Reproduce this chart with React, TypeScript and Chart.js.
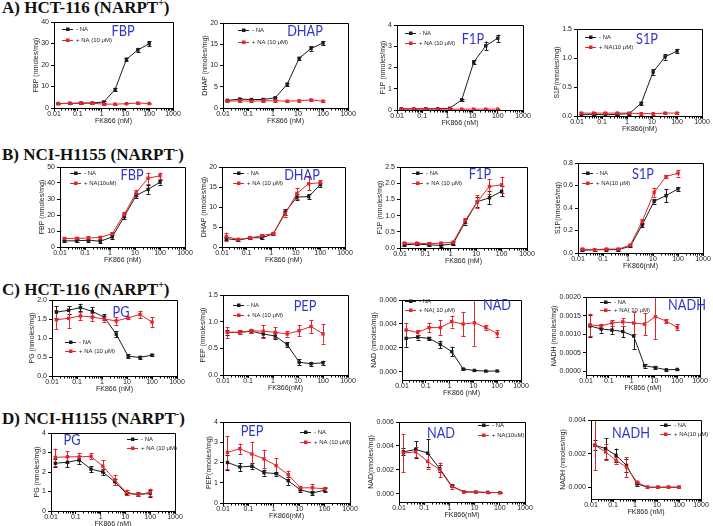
import React, { useEffect, useRef } from "react";
import { Chart, registerables } from "chart.js";

Chart.register(...registerables);

// ---------- shared data ----------
const DOSES = [0.015, 0.046, 0.137, 0.41, 1.23, 3.7, 11.1, 33.3, 100];
const X_TICKS = [0.01, 0.1, 1, 10, 100, 1000];
const X_TICK_LABELS = ["0.01", "0.1", "1", "10", "100", "1000"];
const SERIES = ["- NA", "+ NA (10 μM)"];

// ---------- Row A: HCT-116 ----------
const A_FBP_ctrl = [2.1, 2.2, 2.3, 2.3, 2.8, 8.6, 22.7, 27.0, 29.9];
const A_FBP_ctrlErr = [0.3, 0.3, 0.3, 0.3, 0.4, 0.6, 0.7, 1.0, 1.1];
const A_FBP_na = [2.0, 2.1, 2.2, 2.2, 1.8, 1.8, 2.0, 2.3, 2.1];
const A_FBP_naErr = [0.3, 0.2, 0.2, 0.2, 0.2, 0.2, 0.2, 0.3, 0.2];
const A_FBP_yTicks = [0, 10, 20, 30, 40];

const A_DHAP_ctrl = [1.8, 2.1, 2.0, 2.0, 2.4, 5.6, 11.7, 14.0, 15.3];
const A_DHAP_ctrlErr = [0.2, 0.2, 0.2, 0.3, 0.3, 0.4, 0.3, 0.5, 0.5];
const A_DHAP_na = [1.6, 1.7, 1.6, 1.7, 1.7, 1.6, 1.7, 1.9, 1.6];
const A_DHAP_naErr = [0.2, 0.2, 0.2, 0.2, 0.2, 0.2, 0.2, 0.2, 0.3];
const A_DHAP_yTicks = [0, 5, 10, 15, 20];

const A_F1P_ctrl = [0.06, 0.05, 0.06, 0.06, 0.08, 0.48, 2.25, 3.02, 3.38];
const A_F1P_ctrlErr = [0.03, 0.03, 0.03, 0.03, 0.03, 0.06, 0.1, 0.2, 0.17];
const A_F1P_na = [0.04, 0.04, 0.04, 0.04, 0.04, 0.04, 0.04, 0.04, 0.04];
const A_F1P_naErr = [0.02, 0.02, 0.02, 0.02, 0.02, 0.02, 0.02, 0.02, 0.02];
const A_F1P_yTicks = [0, 1, 2, 3, 4];

const A_S1P_ctrl = [0.02, 0.03, 0.02, 0.03, 0.04, 0.22, 0.76, 1.02, 1.12];
const A_S1P_ctrlErr = [0.02, 0.02, 0.03, 0.02, 0.02, 0.03, 0.05, 0.05, 0.04];
const A_S1P_na = [0.05, 0.05, 0.05, 0.05, 0.05, 0.04, 0.04, 0.05, 0.05];
const A_S1P_naErr = [0.02, 0.02, 0.02, 0.02, 0.02, 0.02, 0.02, 0.02, 0.02];
const A_S1P_yTicks = [0, 0.5, 1.0, 1.5];

// ---------- Row B: NCI-H1155 ----------
const B_FBP_ctrl = [3.8, 3.9, 4.2, 3.6, 6.3, 19.0, 32.2, 36.0, 40.5];
const B_FBP_ctrlErr = [0.8, 0.8, 0.8, 0.8, 1.0, 1.5, 1.5, 3.0, 1.5];
const B_FBP_na = [5.3, 5.4, 5.6, 6.0, 8.3, 20.5, 33.8, 43.0, 44.5];
const B_FBP_naErr = [1.0, 1.0, 1.0, 1.0, 1.0, 1.5, 2.0, 3.5, 2.0];
const B_FBP_yTicks = [0, 10, 20, 30, 40, 50];

const B_DHAP_ctrl = [2.1, 1.7, 2.3, 2.3, 3.3, 8.7, 12.5, 12.6, 15.6];
const B_DHAP_ctrlErr = [0.4, 0.3, 0.3, 0.4, 0.3, 0.7, 0.8, 0.6, 0.5];
const B_DHAP_na = [2.6, 1.9, 2.3, 2.8, 3.4, 8.3, 13.4, 15.8, 16.1];
const B_DHAP_naErr = [1.0, 0.3, 0.3, 0.4, 0.3, 0.7, 1.3, 1.6, 0.6];
const B_DHAP_yTicks = [0, 5, 10, 15, 20];

const B_F1P_ctrl = [0.1, 0.12, 0.1, 0.08, 0.13, 0.8, 1.43, 1.55, 1.75];
const B_F1P_ctrlErr = [0.04, 0.04, 0.04, 0.05, 0.05, 0.08, 0.15, 0.2, 0.15];
const B_F1P_na = [0.15, 0.15, 0.13, 0.15, 0.18, 0.85, 1.43, 1.9, 1.95];
const B_F1P_naErr = [0.05, 0.04, 0.05, 0.05, 0.05, 0.07, 0.2, 0.22, 0.25];
const B_F1P_yTicks = [0, 0.5, 1.0, 1.5, 2.0, 2.5];

const B_S1P_ctrl = [0.025, 0.028, 0.03, 0.03, 0.06, 0.25, 0.46, 0.51, 0.57];
const B_S1P_ctrlErr = [0.01, 0.01, 0.01, 0.01, 0.01, 0.02, 0.02, 0.06, 0.015];
const B_S1P_na = [0.035, 0.03, 0.035, 0.035, 0.07, 0.28, 0.54, 0.68, 0.71];
const B_S1P_naErr = [0.01, 0.01, 0.01, 0.01, 0.01, 0.02, 0.04, 0.01, 0.03];
const B_S1P_yTicks = [0, 0.2, 0.4, 0.6, 0.8];

// ---------- Row C: HCT-116 ----------
const C_PG_ctrl = [1.68, 1.73, 1.8, 1.7, 1.55, 1.1, 0.52, 0.49, 0.55];
const C_PG_ctrlErr = [0.15, 0.1, 0.1, 0.12, 0.08, 0.08, 0.05, 0.04, 0.03];
const C_PG_na = [1.48, 1.52, 1.58, 1.55, 1.5, 1.45, 1.53, 1.62, 1.42];
const C_PG_naErr = [0.25, 0.25, 0.1, 0.1, 0.07, 0.1, 0.02, 0.1, 0.13];
const C_PG_yTicks = [0, 0.5, 1.0, 1.5, 2.0];

const C_PEP_ctrl = [0.8, 0.8, 0.82, 0.77, 0.73, 0.57, 0.24, 0.21, 0.23];
const C_PEP_ctrlErr = [0.05, 0.03, 0.03, 0.06, 0.05, 0.04, 0.06, 0.04, 0.04];
const C_PEP_na = [0.8, 0.8, 0.83, 0.82, 0.8, 0.77, 0.83, 0.91, 0.77];
const C_PEP_naErr = [0.1, 0.04, 0.04, 0.12, 0.1, 0.05, 0.1, 0.12, 0.18];
const C_PEP_yTicks = [0, 0.5, 1.0, 1.5];

const C_NAD_ctrl = [0.0028, 0.0029, 0.0028, 0.0023, 0.0017, 0.00025, 0.00013, 0.00007, 0.00008];
const C_NAD_ctrlErr = [0.0007, 0.0002, 0.0001, 0.0003, 0.0004, 0.00005, 0.00003, 0.00003, 0.00003];
const C_NAD_na = [0.0035, 0.0033, 0.0037, 0.0037, 0.0042, 0.004, 0.0041, 0.0037, 0.0032];
const C_NAD_naErr = [0.0006, 0.0002, 0.0004, 0.0006, 0.0005, 0.001, 0.0019, 0.0002, 0.0003];
const C_NAD_yTicks = [0, 0.002, 0.004, 0.006];

const C_NADH_ctrl = [0.00122, 0.00114, 0.00111, 0.00107, 0.00095, 0.00015, 0.0001, 0.00004, 0.00005];
const C_NADH_ctrlErr = [0.0003, 0.0001, 0.0001, 0.00015, 0.00035, 0.00005, 0.00004, 0.00002, 0.00002];
const C_NADH_na = [0.00125, 0.00122, 0.0013, 0.00133, 0.0013, 0.00127, 0.00147, 0.00135, 0.00118];
const C_NADH_naErr = [0.0003, 0.00006, 0.00008, 0.0001, 0.0003, 0.0003, 0.0006, 0.00006, 0.00008];
const C_NADH_yTicks = [0, 0.0005, 0.001, 0.0015, 0.002];

// ---------- Row D: NCI-H1155 ----------
const D_PG_ctrl = [2.45, 2.5, 2.62, 2.15, 2.0, 1.5, 0.9, 0.85, 0.9];
const D_PG_ctrlErr = [0.2, 0.25, 0.2, 0.15, 0.15, 0.15, 0.1, 0.08, 0.2];
const D_PG_na = [2.75, 2.78, 2.78, 2.8, 2.3, 1.6, 0.95, 0.85, 0.95];
const D_PG_naErr = [0.45, 0.3, 0.2, 0.15, 0.3, 0.25, 0.15, 0.1, 0.2];
const D_PG_yTicks = [0, 1, 2, 3, 4];

const D_PEP_ctrl = [2.0, 1.78, 1.82, 1.5, 1.45, 1.1, 0.65, 0.5, 0.63];
const D_PEP_ctrlErr = [0.35, 0.2, 0.15, 0.15, 0.1, 0.2, 0.1, 0.1, 0.1];
const D_PEP_na = [2.5, 2.68, 2.42, 2.18, 1.85, 1.4, 0.75, 0.75, 0.7];
const D_PEP_naErr = [0.8, 0.25, 0.6, 0.45, 0.35, 0.2, 0.1, 0.2, 0.1];
const D_PEP_yTicks = [0, 1, 2, 3, 4];

const D_NAD_ctrl = [0.0035, 0.0037, 0.0034, 0.0021, 0.00065, 0.00015, 0.00013, 0.0001, 0.00008];
const D_NAD_ctrlErr = [0.0003, 0.0007, 0.0012, 0.0003, 0.0001, 0.00003, 0.00003, 0.00003, 0.00003];
const D_NAD_na = [0.0034, 0.0035, 0.0027, 0.002, 0.0006, 0.00015, 0.00013, 0.0001, 0.00009];
const D_NAD_naErr = [0.0016, 0.0004, 0.0006, 0.0006, 0.0002, 0.00003, 0.00003, 0.00003, 0.00003];
const D_NAD_yTicks = [0, 0.002, 0.004, 0.006];

const D_NADH_ctrl = [0.0025, 0.0023, 0.0019, 0.0013, 0.0002, 0.0, 0.0, 0.0, 0.0];
const D_NADH_ctrlErr = [0.0003, 0.0006, 0.0004, 0.0004, 0.0001, 0, 0, 0, 0];
const D_NADH_na = [0.0025, 0.0021, 0.0016, 0.0012, 0.0003, 0.0, 0.0, 0.0, 0.0];
const D_NADH_naErr = [0.0015, 0.0005, 0.0002, 0.0006, 0.0001, 0, 0, 0, 0];
const D_NADH_yTicks = [0, 0.002, 0.004];

// ---------- styling / layout ----------
const BLACK = "#1c1c1c";
const RED = "#e3262b";
const BLUE = "#3236c8";
const FONT = "'Liberation Sans', Arial, sans-serif";
const Y_BOX = 60;
const RIGHT_PAD = 14;
const TOP_PAD = 6;
const BOTTOM_PAD = 3;
const X_H = 17;

type Panel = {
  name: string;
  yTitle: string;
  xTitle: string;
  legendNA: string;
  box: number[]; // plot area l,t,r,b (page px)
  yMin: number;
  yMax: number;
  yTicks: number[];
  dec: number;
  ctrl: number[];
  ctrlErr: number[];
  na: number[];
  naErr: number[];
  leg: number[]; // x, y, dy
  lab: number[]; // cx, cy
};

const PANELS: Panel[] = [
  { name: "FBP", yTitle: "FBP (nmoles/mg)", xTitle: "FK866 (nM)", legendNA: "+ NA (10 μM)", box: [54, 22, 173, 108], yMin: 0, yMax: 40, yTicks: A_FBP_yTicks, dec: 0, ctrl: A_FBP_ctrl, ctrlErr: A_FBP_ctrlErr, na: A_FBP_na, naErr: A_FBP_naErr, leg: [62, 29, 11], lab: [123, 30] },
  { name: "DHAP", yTitle: "DHAP (nmoles/mg)", xTitle: "FK866 (nM)", legendNA: "+ NA (10 μM)", box: [223, 23, 348, 108], yMin: 0, yMax: 20, yTicks: A_DHAP_yTicks, dec: 0, ctrl: A_DHAP_ctrl, ctrlErr: A_DHAP_ctrlErr, na: A_DHAP_na, naErr: A_DHAP_naErr, leg: [238, 30, 12], lab: [305, 30] },
  { name: "F1P", yTitle: "F1P (nmoles/mg)", xTitle: "FK866 (nM)", legendNA: "+ NA (10 μM)", box: [397, 25, 523, 110], yMin: 0, yMax: 4, yTicks: A_F1P_yTicks, dec: 0, ctrl: A_F1P_ctrl, ctrlErr: A_F1P_ctrlErr, na: A_F1P_na, naErr: A_F1P_naErr, leg: [405, 33, 10], lab: [473, 38] },
  { name: "S1P", yTitle: "S1P(nmoles/mg)", xTitle: "FK866(nM)", legendNA: "+ NA(10 μM)", box: [577, 29, 702, 116], yMin: 0, yMax: 1.5, yTicks: A_S1P_yTicks, dec: 1, ctrl: A_S1P_ctrl, ctrlErr: A_S1P_ctrlErr, na: A_S1P_na, naErr: A_S1P_naErr, leg: [585, 37, 10], lab: [647, 38] },

  { name: "FBP", yTitle: "FBP (nmoles/mg)", xTitle: "FK866 (nM)", legendNA: "+ NA(10uM)", box: [60, 167, 185, 247], yMin: 0, yMax: 50, yTicks: B_FBP_yTicks, dec: 0, ctrl: B_FBP_ctrl, ctrlErr: B_FBP_ctrlErr, na: B_FBP_na, naErr: B_FBP_naErr, leg: [70, 173, 10], lab: [132, 174] },
  { name: "DHAP", yTitle: "DHAP (nmoles/mg)", xTitle: "FK866 (nM)", legendNA: "+ NA (10 μM)", box: [222, 167, 345, 247], yMin: 0, yMax: 20, yTicks: B_DHAP_yTicks, dec: 0, ctrl: B_DHAP_ctrl, ctrlErr: B_DHAP_ctrlErr, na: B_DHAP_na, naErr: B_DHAP_naErr, leg: [233, 173, 10], lab: [302, 174] },
  { name: "F1P", yTitle: "F1P (nmoles/mg)", xTitle: "FK866 (nM)", legendNA: "+ NA (10 μM)", box: [400, 167, 527, 248], yMin: 0, yMax: 2.5, yTicks: B_F1P_yTicks, dec: 1, ctrl: B_F1P_ctrl, ctrlErr: B_F1P_ctrlErr, na: B_F1P_na, naErr: B_F1P_naErr, leg: [412, 173, 10], lab: [480, 173] },
  { name: "S1P", yTitle: "S1P(nmoles/mg)", xTitle: "FK866(nM)", legendNA: "+ NA(10 μM)", box: [578, 163, 703, 253], yMin: 0, yMax: 0.8, yTicks: B_S1P_yTicks, dec: 1, ctrl: B_S1P_ctrl, ctrlErr: B_S1P_ctrlErr, na: B_S1P_na, naErr: B_S1P_naErr, leg: [582, 173, 10], lab: [643, 173] },

  { name: "PG", yTitle: "PG (nmoles/mg)", xTitle: "FK866 (nM)", legendNA: "+ NA (10 μM)", box: [52, 300, 177, 376], yMin: 0, yMax: 2.0, yTicks: C_PG_yTicks, dec: 1, ctrl: C_PG_ctrl, ctrlErr: C_PG_ctrlErr, na: C_PG_na, naErr: C_PG_naErr, leg: [65, 342, 9], lab: [121, 311] },
  { name: "PEP", yTitle: "PEP (nmoles/mg)", xTitle: "FK866(nM)", legendNA: "+ NA (10 μM)", box: [223, 295, 348, 375], yMin: 0, yMax: 1.5, yTicks: C_PEP_yTicks, dec: 1, ctrl: C_PEP_ctrl, ctrlErr: C_PEP_ctrlErr, na: C_PEP_na, naErr: C_PEP_naErr, leg: [233, 305, 10], lab: [305, 305] },
  { name: "NAD", yTitle: "NAD (nmoles/mg)", xTitle: "FK866 (nM)", legendNA: "+ NA( 10 μM)", box: [402, 300, 521, 380], yMin: -0.00067, yMax: 0.006, yTicks: C_NAD_yTicks, dec: 3, ctrl: C_NAD_ctrl, ctrlErr: C_NAD_ctrlErr, na: C_NAD_na, naErr: C_NAD_naErr, leg: [405, 301, 9], lab: [497, 304] },
  { name: "NADH", yTitle: "NADH (nmoles/mg)", xTitle: "FK866 (nM)", legendNA: "+ NA( 10 μM)", box: [586, 297, 700, 375], yMin: -0.0001, yMax: 0.002, yTicks: C_NADH_yTicks, dec: 4, ctrl: C_NADH_ctrl, ctrlErr: C_NADH_ctrlErr, na: C_NADH_na, naErr: C_NADH_naErr, leg: [600, 302, 8], lab: [687, 304] },

  { name: "PG", yTitle: "PG (nmoles/mg)", xTitle: "FK866 (nM)", legendNA: "+ NA (10 μM)", box: [51, 433, 175, 511], yMin: 0, yMax: 4, yTicks: D_PG_yTicks, dec: 0, ctrl: D_PG_ctrl, ctrlErr: D_PG_ctrlErr, na: D_PG_na, naErr: D_PG_naErr, leg: [127, 439, 9], lab: [72, 439] },
  { name: "PEP", yTitle: "PEP(nmoles/mg)", xTitle: "FK866(nM)", legendNA: "+ NA (10 μM)", box: [223, 422, 350, 503], yMin: 0, yMax: 4, yTicks: D_PEP_yTicks, dec: 0, ctrl: D_PEP_ctrl, ctrlErr: D_PEP_ctrlErr, na: D_PEP_na, naErr: D_PEP_naErr, leg: [300, 432, 10], lab: [252, 430] },
  { name: "NAD", yTitle: "NAD(nmoles/mg)", xTitle: "FK866(nM)", legendNA: "+ NA(10uM)", box: [399, 422, 525, 502], yMin: -0.0007, yMax: 0.006, yTicks: D_NAD_yTicks, dec: 3, ctrl: D_NAD_ctrl, ctrlErr: D_NAD_ctrlErr, na: D_NAD_na, naErr: D_NAD_naErr, leg: [478, 425, 10], lab: [441, 432] },
  { name: "NADH", yTitle: "NADH (nmoles/mg)", xTitle: "FK866 (nM)", legendNA: "+ NA(10 μM)", box: [591, 420, 701, 499], yMin: -0.0007, yMax: 0.004, yTicks: D_NADH_yTicks, dec: 3, ctrl: D_NADH_ctrl, ctrlErr: D_NADH_ctrlErr, na: D_NADH_na, naErr: D_NADH_naErr, leg: [660, 425, 9], lab: [631, 432] },
];

const ROW_TITLES = [
  { label: "A) HCT-116 (NARPT", sup: "+", top: -1 },
  { label: "B) NCI-H1155 (NARPT", sup: "-", top: 146 },
  { label: "C) HCT-116 (NARPT", sup: "+", top: 281 },
  { label: "D) NCI-H1155 (NARPT", sup: "-", top: 410 },
];

function geom(p: Panel) {
  const [l, t, r, b] = p.box;
  const left = l - Y_BOX;
  const top = t - TOP_PAD;
  const W = Y_BOX + (r - l) + RIGHT_PAD;
  const H = TOP_PAD + (b - t) + X_H + BOTTOM_PAD;
  return { left, top, W, H };
}

function PanelChart({ p }: { p: Panel }) {
  const ref = useRef<HTMLCanvasElement>(null);
  const g = geom(p);

  useEffect(() => {
    const canvas = ref.current;
    if (!canvas) return;
    const meas = document.createElement("canvas").getContext("2d") as CanvasRenderingContext2D;
    meas.font = `7px ${FONT}`;
    const widest = Math.max(...p.yTicks.map((v) => meas.measureText(v.toFixed(p.dec)).width));
    const yWidth = 3 + 7 + widest + 4;
    const tickFont = { family: FONT, size: 7, lineHeight: 1 };

    const deco: any = {
      id: "deco",
      beforeDatasetsDraw(chart: any) {
        const ctx = chart.ctx;
        const a = chart.chartArea;
        const ys = chart.scales.y;
        ctx.save();
        ctx.beginPath();
        ctx.rect(a.left, a.top, a.right - a.left, a.bottom - a.top);
        ctx.clip();
        chart.data.datasets.forEach((ds: any, i: number) => {
          const meta = chart.getDatasetMeta(i);
          ctx.strokeStyle = ds.borderColor;
          ctx.lineWidth = 1;
          meta.data.forEach((pt: any, j: number) => {
            const e = ds.errors[j];
            if (!e) return;
            const v = ds.data[j].y;
            const x = Math.round(pt.x) + 0.5;
            const y1 = ys.getPixelForValue(v + e);
            const y0 = ys.getPixelForValue(v - e);
            ctx.beginPath();
            ctx.moveTo(x, y0);
            ctx.lineTo(x, y1);
            ctx.moveTo(x - 2, Math.round(y0) + 0.5);
            ctx.lineTo(x + 2, Math.round(y0) + 0.5);
            ctx.moveTo(x - 2, Math.round(y1) + 0.5);
            ctx.lineTo(x + 2, Math.round(y1) + 0.5);
            ctx.stroke();
          });
        });
        ctx.restore();
      },
      afterDraw(chart: any) {
        const ctx = chart.ctx;
        const a = chart.chartArea;
        const xs = chart.scales.x;
        ctx.save();
        // frame top & right
        ctx.strokeStyle = "#000";
        ctx.lineWidth = 1;
        const L = Math.round(a.left) + 0.5;
        const T = Math.round(a.top) + 0.5;
        const R = Math.round(a.right) + 0.5;
        const B = Math.round(a.bottom) + 0.5;
        ctx.beginPath();
        ctx.moveTo(L, T);
        ctx.lineTo(R, T);
        ctx.lineTo(R, B);
        ctx.stroke();
        // minor log ticks
        ctx.beginPath();
        for (let d = 0; d < X_TICKS.length - 1; d++) {
          for (let k = 2; k <= 9; k++) {
            const px = Math.round(xs.getPixelForValue(X_TICKS[d] * k)) + 0.5;
            ctx.moveTo(px, B);
            ctx.lineTo(px, B + 2);
          }
        }
        ctx.stroke();
        // legend
        const names = [SERIES[0], p.legendNA];
        const cols = [BLACK, RED];
        ctx.font = `6px ${FONT}`;
        ctx.textBaseline = "middle";
        ctx.textAlign = "left";
        for (let i = 0; i < 2; i++) {
          const lx = p.leg[0] - g.left;
          const ly = Math.round(p.leg[1] + i * p.leg[2] - g.top) + 0.5;
          ctx.strokeStyle = cols[i];
          ctx.fillStyle = cols[i];
          ctx.beginPath();
          ctx.moveTo(lx, ly);
          ctx.lineTo(lx + 11, ly);
          ctx.stroke();
          ctx.fillRect(lx + 4, ly - 2, 3.5, 3.5);
          ctx.fillStyle = "#222";
          ctx.fillText(names[i], lx + 14, ly);
        }
        // metabolite label
        ctx.translate(p.lab[0] - g.left, p.lab[1] - g.top);
        ctx.scale(0.85, 1);
        ctx.font = `15px Lato, 'Open Sans', sans-serif`;
        ctx.fillStyle = BLUE;
        ctx.textAlign = "center";
        ctx.textBaseline = "middle";
        ctx.fillText(p.name, 0, 1);
        ctx.restore();
      },
    };

    const mkDs = (label: string, vals: number[], errs: number[], color: string, order: number) => ({
      label,
      data: DOSES.map((x, i) => ({ x, y: vals[i] })),
      errors: errs,
      borderColor: color,
      backgroundColor: color,
      borderWidth: 1,
      pointStyle: "rect",
      pointRadius: 2.4,
      pointBorderWidth: 0,
      pointBackgroundColor: color,
      tension: 0,
      order,
    });

    const chart = new Chart(canvas, {
      type: "line",
      data: {
        datasets: [
          mkDs(SERIES[0], p.ctrl, p.ctrlErr, BLACK, 1),
          mkDs(p.legendNA, p.na, p.naErr, RED, 0),
        ],
      },
      options: {
        animation: false,
        responsive: false,
        devicePixelRatio: 1,
        events: [],
        layout: { padding: { left: Y_BOX - yWidth, top: TOP_PAD, right: RIGHT_PAD, bottom: BOTTOM_PAD } },
        plugins: { legend: { display: false }, tooltip: { enabled: false } },
        scales: {
          x: {
            type: "logarithmic",
            min: X_TICKS[0],
            max: X_TICKS[X_TICKS.length - 1],
            afterBuildTicks: (s: any) => {
              s.ticks = X_TICKS.map((v) => ({ value: v }));
            },
            ticks: {
              autoSkip: false,
              maxRotation: 0,
              minRotation: 0,
              padding: 0,
              font: tickFont,
              color: "#222",
              callback: (_v: any, i: number) => X_TICK_LABELS[i],
            },
            grid: { drawOnChartArea: false, drawTicks: true, tickLength: 3, color: "#000", lineWidth: 1 },
            border: { display: true, color: "#000", width: 1 },
            title: { display: true, text: p.xTitle, font: tickFont, color: "#222", padding: 0 },
          },
          y: {
            type: "linear",
            min: p.yMin,
            max: p.yMax,
            afterBuildTicks: (s: any) => {
              s.ticks = p.yTicks.map((v) => ({ value: v }));
            },
            ticks: {
              autoSkip: false,
              padding: 2,
              font: tickFont,
              color: "#222",
              callback: (v: any) => Number(v).toFixed(p.dec),
            },
            grid: { drawOnChartArea: false, drawTicks: true, tickLength: 3, color: "#000", lineWidth: 1 },
            border: { display: true, color: "#000", width: 1 },
            title: { display: true, text: p.yTitle, font: tickFont, color: "#222", padding: 0 },
          },
        },
      } as any,
      plugins: [deco],
    } as any);
    return () => chart.destroy();
  }, []);

  return (
    <canvas
      ref={ref}
      width={g.W}
      height={g.H}
      style={{ position: "absolute", left: g.left, top: g.top, width: g.W, height: g.H }}
    />
  );
}

export default function App() {
  return (
    <div
      style={{
        position: "absolute",
        left: 0,
        top: 0,
        width: 713,
        height: 526,
        background: "#fff",
        overflow: "hidden",
      }}
    >
      {ROW_TITLES.map((r, i) => (
        <div
          key={i}
          style={{
            position: "absolute",
            left: 2,
            top: r.top,
            font: "bold 17px 'Liberation Serif', 'Times New Roman', serif",
            lineHeight: "17px",
            whiteSpace: "nowrap",
            color: "#111",
          }}
        >
          {r.label}
          <sup style={{ fontSize: 10, lineHeight: 0 }}>{r.sup}</sup>)
        </div>
      ))}
      {PANELS.map((p, i) => (
        <PanelChart key={i} p={p} />
      ))}
    </div>
  );
}
